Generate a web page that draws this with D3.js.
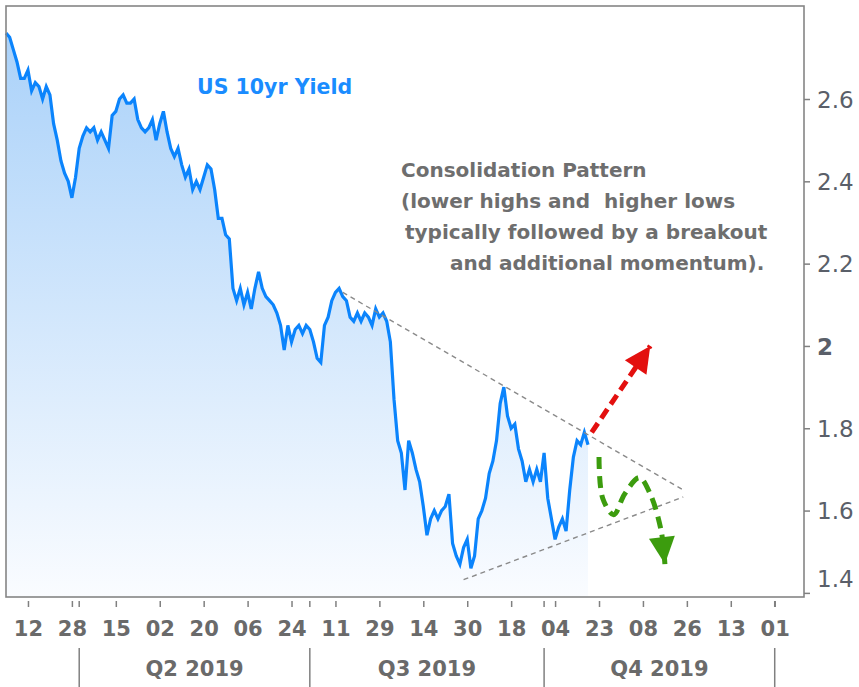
<!DOCTYPE html>
<html lang="en">
<head>
<meta charset="UTF-8">
<title>US 10yr Yield</title>
<script src="https://d3js.org/d3.v7.min.js"></script>
<style>
  body { margin: 0; background: #fff; }
  svg text { font-family: "DejaVu Sans", Verdana, sans-serif; }
</style>
</head>
<body>
<div id="chart"></div>
<script>
// trading calendar: weekdays, bond market holidays skipped
const firstDay = "2019-03-04";
const lastDay = "2020-01-13";
const holidays = ["2019-04-19", "2019-05-27", "2019-07-04", "2019-09-02", "2019-10-14", "2019-11-28", "2019-12-25"];

// US 10yr yield, one value per trading day from Mar 4 2019 to Oct 18 2019
const yields = [
  2.76, 2.75, 2.72, 2.69, 2.65,   // Mar 4
  2.65, 2.67, 2.62, 2.64, 2.63,
  2.60, 2.63, 2.61, 2.54, 2.50,
  2.45, 2.42, 2.40, 2.36, 2.41,
  2.48, 2.51, 2.53, 2.52, 2.53,   // Apr 1
  2.50, 2.52, 2.50, 2.48, 2.56,
  2.57, 2.60, 2.61, 2.59,
  2.59, 2.60, 2.55, 2.53, 2.52,
  2.53, 2.55, 2.50, 2.54, 2.57,   // Apr 29
  2.52, 2.48, 2.46, 2.48, 2.44,
  2.41, 2.43, 2.38, 2.40, 2.38,
  2.41, 2.44, 2.43, 2.38, 2.31,
  2.31, 2.27, 2.26, 2.14,
  2.11, 2.14, 2.10, 2.13, 2.09,   // Jun 3
  2.14, 2.18, 2.14, 2.12, 2.11,
  2.10, 2.08, 2.05, 1.99, 2.05,
  2.01, 2.04, 2.05, 2.03, 2.05,
  2.04, 2.01, 1.97, 1.96,         // Jul 1
  2.05, 2.07, 2.11, 2.13, 2.14,
  2.12, 2.11, 2.07, 2.06, 2.08,
  2.06, 2.08, 2.07, 2.05, 2.09,
  2.07, 2.08, 2.06, 2.01, 1.87,   // Jul 29
  1.77, 1.74, 1.65, 1.77, 1.74,
  1.70, 1.67, 1.61, 1.54, 1.58,
  1.60, 1.58, 1.60, 1.61, 1.64,
  1.52, 1.49, 1.47, 1.51, 1.53,
  1.46, 1.49, 1.58, 1.60,         // Sep 3
  1.63, 1.69, 1.72, 1.77, 1.86,
  1.90, 1.83, 1.80, 1.81, 1.75,
  1.72, 1.67, 1.70, 1.67, 1.70,
  1.67, 1.74, 1.63, 1.58, 1.53,   // Sep 30
  1.56, 1.58, 1.55, 1.65, 1.73,
  1.77, 1.76, 1.79, 1.76
];

const tickDates = ["2019-03-12", "2019-03-28", "2019-04-15", "2019-05-02", "2019-05-20", "2019-06-06",
  "2019-06-24", "2019-07-11", "2019-07-29", "2019-08-14", "2019-08-30", "2019-09-18", "2019-10-04",
  "2019-10-23", "2019-11-08", "2019-11-26", "2019-12-13", "2020-01-01"];
const quarterStarts = ["2019-04-01", "2019-07-01", "2019-10-01", "2020-01-01"];
const quarterLabels = ["Q2 2019", "Q3 2019", "Q4 2019"];
const yTicks = [1.4, 1.6, 1.8, 2, 2.2, 2.4, 2.6];

// annotations
const upperTrend = [["2019-07-15", 2.13], ["2019-11-25", 1.65]];
const lowerTrend = [["2019-08-29", 1.432], ["2019-11-25", 1.633]];
const breakUp = [["2019-10-21", 1.79], ["2019-11-12", 2.00]];
const breakDown = [["2019-10-23", 1.73], ["2019-10-24", 1.63], ["2019-10-29", 1.59], ["2019-11-01", 1.64],
  ["2019-11-07", 1.68], ["2019-11-12", 1.64], ["2019-11-15", 1.55], ["2019-11-18", 1.47]];
const seriesLabel = "US 10yr Yield";
const noteLines = ["Consolidation Pattern", "(lower highs and  higher lows",
  "typically followed by a breakout", "and additional momentum)."];

const W = 859, H = 687;
const plot = {left: 6, top: 6, right: 804, bottom: 597};

const fmt = d3.timeFormat("%Y-%m-%d");
const parse = d3.timeParse("%Y-%m-%d");
const days = d3.timeDay.range(parse(firstDay), d3.timeDay.offset(parse(lastDay), 1))
  .filter(d => d.getDay() % 6 !== 0 && !holidays.includes(fmt(d)));
const dayIndex = new Map(days.map((d, i) => [fmt(d), i]));
const idx = s => dayIndex.get(s);

const x = d3.scaleLinear().domain([0, days.length - 1]).range([plot.left, plot.right]);
const y = d3.scaleLinear().domain([1.39, 2.826]).range([plot.bottom, plot.top]);

const svg = d3.select("#chart").append("svg")
  .attr("width", W).attr("height", H);

const defs = svg.append("defs");
const grad = defs.append("linearGradient")
  .attr("id", "fill").attr("gradientUnits", "userSpaceOnUse")
  .attr("x1", 0).attr("x2", 0).attr("y1", plot.top + 20).attr("y2", plot.bottom);
grad.append("stop").attr("offset", 0).attr("stop-color", "#a9d1f9");
grad.append("stop").attr("offset", 1).attr("stop-color", "#fafcff");

// area + line
const pts = yields.map((v, i) => [i, v]);
svg.append("path")
  .datum(pts)
  .attr("fill", "url(#fill)")
  .attr("d", d3.area().x(d => x(d[0])).y0(plot.bottom).y1(d => y(d[1])));

svg.append("path")
  .datum(pts)
  .attr("fill", "none")
  .attr("stroke", "#0b84fc")
  .attr("stroke-width", 3.2)
  .attr("stroke-linejoin", "miter")
  .attr("d", d3.line().x(d => x(d[0])).y(d => y(d[1])));

// frame
svg.append("rect")
  .attr("x", plot.left).attr("y", plot.top)
  .attr("width", plot.right - plot.left).attr("height", plot.bottom - plot.top)
  .attr("fill", "none").attr("stroke", "#858585").attr("stroke-width", 1.6);

// y axis on the right
const yAxis = svg.append("g")
  .attr("transform", `translate(${plot.right},0)`)
  .call(d3.axisRight(y).tickValues(yTicks).tickSize(6).tickPadding(7).tickFormat(d => String(d)));
yAxis.select(".domain").remove();
yAxis.selectAll(".tick line").attr("stroke", "#808080").attr("stroke-width", 1.5);
yAxis.selectAll(".tick text")
  .attr("fill", "#5a5f69")
  .style("font-size", "23px")
  .style("font-weight", d => d === 2 ? "bold" : "normal")
  .attr("dy", d => d === 1.4 ? "-0.28em" : "0.35em");

// x axis: day ticks
const xAxis = svg.append("g")
  .attr("transform", `translate(0,${plot.bottom + 4})`)
  .call(d3.axisBottom(x).tickValues(tickDates.map(idx)).tickSize(6)
    .tickFormat(i => d3.timeFormat("%d")(days[i])));
xAxis.select(".domain").remove();
xAxis.selectAll(".tick line").attr("stroke", "#808080").attr("stroke-width", 1.5);
xAxis.selectAll(".tick text")
  .attr("y", 35).attr("dy", null)
  .attr("fill", "#6a6a6a")
  .style("font-size", "21px")
  .style("font-weight", "bold");

// quarter start ticks
svg.append("g").selectAll("line")
  .data(quarterStarts.map(idx))
  .join("line")
  .attr("x1", d => x(d)).attr("x2", d => x(d))
  .attr("y1", plot.bottom + 4).attr("y2", plot.bottom + 10)
  .attr("stroke", "#808080").attr("stroke-width", 1.5);

// quarter separators + labels
svg.append("g").selectAll("line")
  .data(quarterStarts.map(idx))
  .join("line")
  .attr("x1", d => x(d)).attr("x2", d => x(d))
  .attr("y1", 648).attr("y2", H)
  .attr("stroke", "#808080").attr("stroke-width", 1.5);

svg.append("g").selectAll("text")
  .data(quarterLabels)
  .join("text")
  .attr("x", (d, i) => (x(idx(quarterStarts[i])) + x(idx(quarterStarts[i + 1]))) / 2)
  .attr("y", 676)
  .attr("text-anchor", "middle")
  .attr("fill", "#6a6a6a")
  .style("font-size", "21px")
  .style("font-weight", "bold")
  .text(d => d);

// consolidation triangle
const toXY = p => [x(idx(p[0])), y(p[1])];
[upperTrend, lowerTrend].forEach(seg => {
  svg.append("path")
    .attr("d", d3.line()(seg.map(toXY)))
    .attr("fill", "none")
    .attr("stroke", "#8a8a8a")
    .attr("stroke-width", 1.4)
    .attr("stroke-dasharray", "5,4");
});

function arrowHead(p0, p1, len, half) {
  const dx = p1[0] - p0[0], dy = p1[1] - p0[1], d = Math.hypot(dx, dy);
  const ux = dx / d, uy = dy / d;
  const bx = p1[0] - ux * len, by = p1[1] - uy * len;
  return [p1, [bx - uy * half, by + ux * half], [bx + uy * half, by - ux * half]];
}

// red breakout arrow
const up = breakUp.map(toXY);
svg.append("path")
  .attr("d", d3.line()(up))
  .attr("fill", "none").attr("stroke", "#e3100f")
  .attr("stroke-width", 5).attr("stroke-dasharray", "11,6");
svg.append("polygon")
  .attr("points", arrowHead(up[0], up[1], 26, 13).join(" "))
  .attr("fill", "#e3100f");

// green breakdown arrow
const down = breakDown.map(toXY);
svg.append("path")
  .attr("d", d3.line().curve(d3.curveCatmullRom)(down))
  .attr("fill", "none").attr("stroke", "#3c9c0e")
  .attr("stroke-width", 5).attr("stroke-dasharray", "12,7");
svg.append("polygon")
  .attr("points", arrowHead(down[down.length - 2], down[down.length - 1], 27, 13).join(" "))
  .attr("fill", "#3c9c0e");

// labels
svg.append("text")
  .attr("x", 197).attr("y", 94)
  .attr("fill", "#1a8cff")
  .style("font-size", "20.5px").style("font-weight", "bold")
  .text(seriesLabel);

const noteX = [401, 401, 405, 450];
svg.append("g").selectAll("text")
  .data(noteLines)
  .join("text")
  .attr("x", (d, i) => noteX[i])
  .attr("y", (d, i) => 177 + i * 31)
  .attr("fill", "#6e6e6e")
  .style("font-size", "20px").style("font-weight", "bold")
  .style("white-space", "pre")
  .text(d => d);
</script>
</body>
</html>
